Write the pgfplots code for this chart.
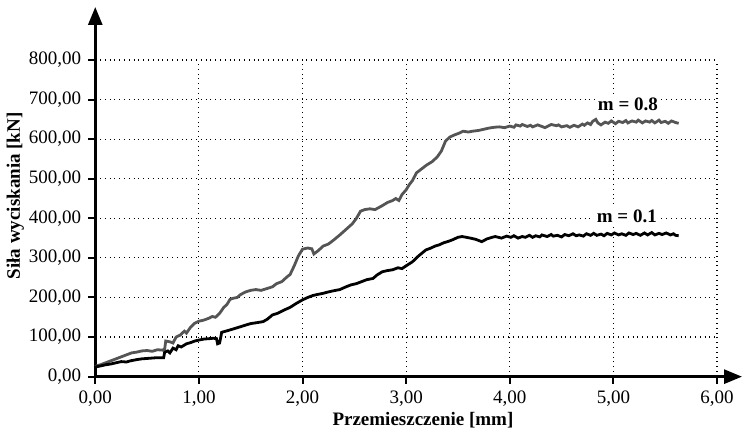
\documentclass[border=0pt]{standalone}
\usepackage{fontspec}
\setmainfont{Liberation Serif}
\usepackage{pgfplots}
\pgfplotsset{compat=1.18}
\usetikzlibrary{arrows.meta}
\definecolor{seriesgray}{HTML}{555555}

\begin{document}
\begin{tikzpicture}
\begin{axis}[
    scale only axis,
    width=311pt, height=158.4pt,
    xmin=0, xmax=6, ymin=0, ymax=800,
    xtick={0,1,...,6},
    ytick={0,100,...,800},
    axis lines=left,
    axis line style={line width=1.4pt},
    x axis line style={-{Triangle[length=9pt,width=7pt]}, shorten >=-12.5pt},
    y axis line style={-{Triangle[length=9pt,width=7pt]}, shorten >=-26.5pt},
    grid=major,
    major grid style={dotted, black, line width=0.6pt},
    tick align=outside,
    major tick length=3.5pt,
    tick style={black, line width=1pt},
    tick label style={font=\fontsize{9.5}{11}\selectfont},
    /pgf/number format/.cd, fixed, fixed zerofill, precision=2, use comma, 1000 sep={}, assume math mode=true,
    /pgfplots/.cd,
    xlabel={Przemieszczenie [mm]},
    ylabel={Siła wyciskania [kN]},
    every axis x label/.style={at={(axis description cs:0.527,0)}, yshift=-22pt, anchor=center, font=\fontsize{9.5}{11}\selectfont\bfseries},
    every axis y label/.style={at={(axis description cs:0,0.571)}, xshift=-40pt, rotate=90, anchor=center, font=\fontsize{9.5}{11}\selectfont\bfseries},
    clip=false,
]
% m = 0.8
\addplot[seriesgray, line width=1.4pt] coordinates {
(0.00,25) (0.02,28) (0.05,30) (0.10,35) (0.15,40) (0.20,45) (0.25,50) (0.30,55)
(0.35,60) (0.40,62) (0.45,65) (0.50,66) (0.55,64) (0.60,68) (0.65,67) (0.67,70)
(0.68,90) (0.72,88) (0.75,85) (0.78,100) (0.82,105) (0.86,115) (0.88,110) (0.92,125)
(0.96,135) (1.00,140) (1.05,143) (1.10,148) (1.13,152) (1.16,150) (1.20,160) (1.24,175)
(1.27,182) (1.30,195) (1.33,198) (1.37,200) (1.40,207) (1.45,214) (1.50,218) (1.55,220)
(1.60,218) (1.65,222) (1.71,227) (1.75,235) (1.80,240) (1.85,252) (1.88,258) (1.92,280)
(1.96,305) (2.00,322) (2.05,325) (2.09,323) (2.11,310) (2.15,318) (2.20,330) (2.25,335)
(2.30,345) (2.36,358) (2.42,372) (2.48,386) (2.52,400) (2.56,418) (2.60,422) (2.65,424)
(2.70,422) (2.77,432) (2.82,440) (2.87,445) (2.90,450) (2.93,445) (2.96,460) (3.00,472)
(3.03,485) (3.06,495) (3.10,515) (3.15,525) (3.20,535) (3.25,543) (3.30,555) (3.34,570)
(3.38,595) (3.42,605) (3.46,610) (3.51,615) (3.55,620) (3.60,618) (3.64,620) (3.70,622)
(3.75,625) (3.80,628) (3.85,630) (3.90,631) (3.95,629) (4.00,633) (4.04,630) (4.06,636)
(4.10,633) (4.12,637) (4.17,632) (4.20,635) (4.22,631) (4.27,636) (4.30,633) (4.34,629)
(4.37,633) (4.40,637) (4.45,634) (4.47,636) (4.50,631) (4.55,634) (4.58,630) (4.62,635)
(4.66,631) (4.70,638) (4.72,635) (4.75,641) (4.78,637) (4.80,645) (4.83,650) (4.85,641)
(4.88,636) (4.92,643) (4.95,640) (4.98,646) (5.02,639) (5.05,645) (5.09,642) (5.12,647)
(5.14,641) (5.18,646) (5.22,643) (5.24,648) (5.28,641) (5.31,646) (5.35,643) (5.37,647)
(5.40,641) (5.44,648) (5.46,642) (5.50,645) (5.53,640) (5.56,646) (5.60,642) (5.63,640)
};
% m = 0.1
\addplot[black, line width=1.4pt] coordinates {
(0.00,20) (0.01,25) (0.05,27) (0.10,30) (0.15,32) (0.20,35) (0.25,38) (0.30,37)
(0.34,40) (0.40,43) (0.45,45) (0.50,46) (0.55,47) (0.60,48) (0.66,48) (0.67,62)
(0.70,65) (0.72,60) (0.75,72) (0.78,68) (0.80,78) (0.83,75) (0.88,83) (0.92,86)
(0.96,90) (1.01,93) (1.05,95) (1.10,96) (1.14,97) (1.17,96) (1.18,83) (1.20,85)
(1.22,112) (1.26,115) (1.30,118) (1.35,122) (1.40,126) (1.46,131) (1.50,134) (1.55,136)
(1.62,139) (1.66,145) (1.71,156) (1.76,160) (1.82,168) (1.88,175) (1.94,185) (2.00,194)
(2.05,200) (2.10,205) (2.15,208) (2.19,210) (2.25,214) (2.30,217) (2.36,220) (2.42,227)
(2.47,232) (2.52,235) (2.57,240) (2.62,245) (2.68,248) (2.72,257) (2.77,265) (2.82,268)
(2.87,270) (2.92,275) (2.96,273) (3.00,280) (3.06,290) (3.12,305) (3.19,320) (3.24,325)
(3.28,330) (3.32,333) (3.36,338) (3.41,342) (3.45,346) (3.50,352) (3.54,354) (3.58,352)
(3.62,350) (3.67,347) (3.73,341) (3.78,348) (3.83,352) (3.86,354) (3.92,350) (3.97,355)
(4.01,352) (4.04,356) (4.08,350) (4.12,354) (4.15,352) (4.19,357) (4.22,352) (4.25,356)
(4.29,353) (4.31,358) (4.36,354) (4.40,359) (4.42,355) (4.46,357) (4.50,353) (4.53,359)
(4.57,356) (4.61,361) (4.64,356) (4.67,358) (4.71,355) (4.74,361) (4.78,357) (4.81,362)
(4.84,357) (4.88,360) (4.91,356) (4.94,362) (4.98,358) (5.01,363) (5.05,358) (5.08,361)
(5.12,357) (5.15,363) (5.19,359) (5.22,362) (5.26,357) (5.30,363) (5.33,358) (5.37,364)
(5.40,358) (5.44,362) (5.47,359) (5.51,363) (5.55,358) (5.58,361) (5.60,357) (5.63,356)
};
\node[font=\fontsize{9.5}{11}\selectfont\bfseries, fill=white, inner sep=1.5pt] at (axis cs:5.14,689) {m = 0.8};
\node[font=\fontsize{9.5}{11}\selectfont\bfseries, fill=white, inner sep=1.5pt] at (axis cs:5.13,404) {m = 0.1};
\path (axis cs:0,800) ++(0,30pt) coordinate (toppad);
\end{axis}
\end{tikzpicture}
\end{document}
